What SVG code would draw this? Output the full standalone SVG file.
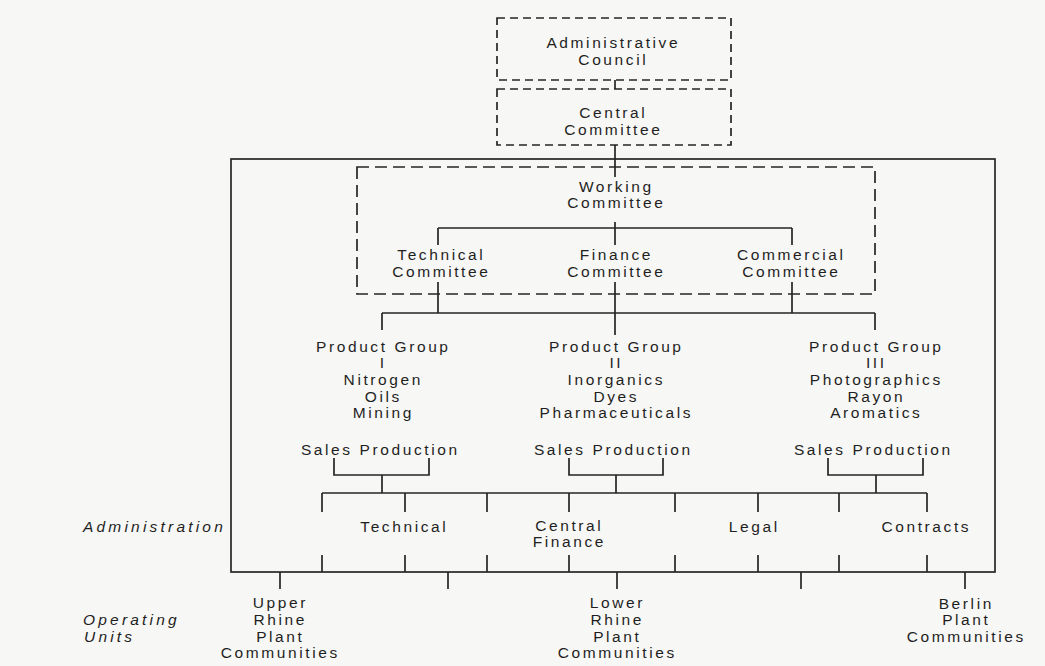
<svg xmlns="http://www.w3.org/2000/svg" width="1045" height="666" viewBox="0 0 1045 666">
<style>
.t{font-family:"Liberation Sans",Arial,sans-serif;font-size:15.5px;letter-spacing:2.6px;fill:#1f1f1f;text-anchor:middle}
.i{font-family:"Liberation Sans",Arial,sans-serif;font-size:15.5px;letter-spacing:3.2px;fill:#1f1f1f;font-style:italic}
.d1{fill:none;stroke:#262626;stroke-width:1.7;stroke-dasharray:8 5}
.d2{fill:none;stroke:#262626;stroke-width:1.7;stroke-dasharray:12 6}
.c{fill:none;stroke:#262626;stroke-width:1.7}
</style>
<rect width="1045" height="666" fill="#f7f7f5"/>
<g id="frame"><rect class="c" x="231" y="159" width="764" height="413"/></g>
<g id="connectors" class="c">
<path d="M615 80V89M615 145V177M615 222V245M438 228H792M438 228V245M792 228V245"/>
<path d="M438 282V313M615 282V335M792 282V313M382 313H875M382 313V330M875 313V330"/>
<path d="M334 458V475H429V458M382 475V493"/>
<path d="M569 458V475H663V458M616 475V493"/>
<path d="M828 458V475H923V458M876 475V493"/>
<path d="M322 493H927"/>
<path d="M322 493V512M405 493V512M487 493V512M569 493V512M675 493V512M758 493V512M839 493V512M927 493V512"/>
<path d="M322 555V572M405 555V572M487 555V572M569 555V572M675 555V572M758 555V572M839 555V572M927 555V572"/>
<path d="M280 572V589M448 572V589M617 572V589M801 572V589M965 572V589"/>
</g>
<g id="administrative-council"><rect class="d1" x="497" y="18" width="234" height="62"/><text class="t" x="613.3" y="48">Administrative</text><text class="t" x="613.3" y="65">Council</text></g>
<g id="central-committee"><rect class="d1" x="497" y="89" width="234" height="56"/><text class="t" x="613.3" y="118">Central</text><text class="t" x="613.3" y="135">Committee</text></g>
<g id="working-committee"><rect class="d2" x="357" y="167" width="518" height="127"/><text class="t" x="616.3" y="192">Working</text><text class="t" x="616.3" y="208">Committee</text></g>
<g id="technical-committee"><text class="t" x="441.3" y="260">Technical</text><text class="t" x="441.3" y="277">Committee</text></g>
<g id="finance-committee"><text class="t" x="616.3" y="260">Finance</text><text class="t" x="616.3" y="277">Committee</text></g>
<g id="commercial-committee"><text class="t" x="791.3" y="260">Commercial</text><text class="t" x="791.3" y="277">Committee</text></g>
<g id="product-group-1"><text class="t" x="383.3" y="352">Product Group</text><text class="t" x="383.3" y="368">I</text><text class="t" x="383.3" y="385">Nitrogen</text><text class="t" x="383.3" y="402">Oils</text><text class="t" x="383.3" y="418">Mining</text></g>
<g id="product-group-2"><text class="t" x="616.3" y="352">Product Group</text><text class="t" x="616.3" y="368">II</text><text class="t" x="616.3" y="385">Inorganics</text><text class="t" x="616.3" y="402">Dyes</text><text class="t" x="616.3" y="418">Pharmaceuticals</text></g>
<g id="product-group-3"><text class="t" x="876.3" y="352">Product Group</text><text class="t" x="876.3" y="368">III</text><text class="t" x="876.3" y="385">Photographics</text><text class="t" x="876.3" y="402">Rayon</text><text class="t" x="876.3" y="418">Aromatics</text></g>
<g id="sales-production-1"><text class="t" x="380.3" y="455">Sales Production</text></g>
<g id="sales-production-2"><text class="t" x="613.3" y="455">Sales Production</text></g>
<g id="sales-production-3"><text class="t" x="873.3" y="455">Sales Production</text></g>
<g id="label-administration"><text class="i" x="83" y="532">Administration</text></g>
<g id="technical"><text class="t" x="404.3" y="532">Technical</text></g>
<g id="central-finance"><text class="t" x="569.3" y="531">Central</text><text class="t" x="569.3" y="547">Finance</text></g>
<g id="legal"><text class="t" x="754.3" y="532">Legal</text></g>
<g id="contracts"><text class="t" x="926.3" y="532">Contracts</text></g>
<g id="label-operating-units"><text class="i" x="83" y="625">Operating</text><text class="i" x="84" y="642">Units</text></g>
<g id="upper-rhine"><text class="t" x="280.3" y="608">Upper</text><text class="t" x="280.3" y="625">Rhine</text><text class="t" x="280.3" y="642">Plant</text><text class="t" x="280.3" y="658">Communities</text></g>
<g id="lower-rhine"><text class="t" x="617.3" y="608">Lower</text><text class="t" x="617.3" y="625">Rhine</text><text class="t" x="617.3" y="642">Plant</text><text class="t" x="617.3" y="658">Communities</text></g>
<g id="berlin"><text class="t" x="966.3" y="609">Berlin</text><text class="t" x="966.3" y="625">Plant</text><text class="t" x="966.3" y="642">Communities</text></g>
</svg>
